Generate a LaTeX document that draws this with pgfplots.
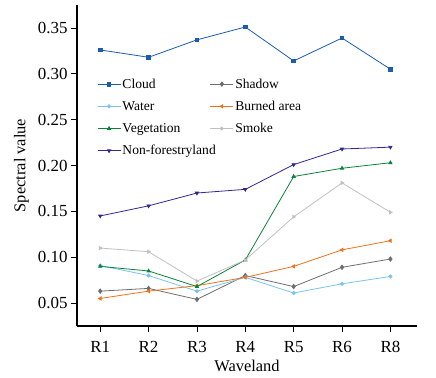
\documentclass[border=0pt]{standalone}
\usepackage{fontspec}
\setmainfont{Liberation Serif}
\usepackage{pgfplots}
\pgfplotsset{compat=1.18}
\definecolor{ccloud}{RGB}{28,92,172}
\definecolor{cshadow}{RGB}{110,110,110}
\definecolor{cwater}{RGB}{120,195,240}
\definecolor{cburned}{RGB}{242,112,24}
\definecolor{cveg}{RGB}{10,130,60}
\definecolor{csmoke}{RGB}{192,192,192}
\definecolor{cnon}{RGB}{48,40,140}
\begin{document}
\begin{tikzpicture}
\path[use as bounding box] (-77bp,-52bp) rectangle (359bp,326bp);
\begin{axis}[
  at={(0,0)}, anchor=south west,
  scale only axis, width=340bp, height=321bp,
  xmin=-0.48, xmax=6.55, ymin=0.025, ymax=0.375,
  axis lines*=left, axis line style={line width=1.2pt},
  xtick={0,1,2,3,4,5,6}, xticklabels={R1,R2,R3,R4,R5,R6,R8},
  ytick={0.05,0.10,0.15,0.20,0.25,0.30,0.35},
  yticklabel style={/pgf/number format/.cd,fixed,fixed zerofill,precision=2},
  /pgf/number format/assume math mode=true,
  tick align=outside, major tick length=6bp, tick style={line width=0.8pt, black},
  ticklabel style={font=\fontsize{17}{18}\selectfont},
  xticklabel style={yshift=-6bp},
  xlabel={Waveland}, ylabel={Spectral value},
  label style={font=\fontsize{16.5}{18}\selectfont},
  xlabel style={at={(axis description cs:0.5,0)}, anchor=north, yshift=-31bp},
  ylabel style={yshift=2bp},
  legend columns=2,
  legend style={draw=none, fill=none, at={(0.05,0.782)}, anchor=north west,
    font=\fontsize{13.6}{15}\selectfont, row sep=8.3bp, column sep=0bp,
    nodes={inner sep=1.5bp},
    /tikz/every even column/.append style={column sep=8bp}},
  legend cell align=left,
  legend image code/.code={\draw[mark repeat=2,mark phase=2,#1] plot coordinates {(0bp,0bp) (11.5bp,0bp) (23bp,0bp)};},
  every axis plot/.append style={line width=0.8pt, mark size=1.8pt},
]
\addplot[ccloud, mark=square*] coordinates {(0,0.326)(1,0.318)(2,0.337)(3,0.351)(4,0.314)(5,0.339)(6,0.305)};
\addlegendentry{Cloud}
\addplot[cshadow, mark=diamond*, mark size=2.2pt] coordinates {(0,0.063)(1,0.066)(2,0.054)(3,0.080)(4,0.068)(5,0.089)(6,0.098)};
\addlegendentry{Shadow}
\addplot[cwater, mark=*, mark size=1.6pt] coordinates {(0,0.091)(1,0.080)(2,0.063)(3,0.078)(4,0.061)(5,0.071)(6,0.079)};
\addlegendentry{Water}
\addplot[cburned, mark=triangle*, mark options={rotate=90}] coordinates {(0,0.055)(1,0.063)(2,0.069)(3,0.078)(4,0.090)(5,0.108)(6,0.118)};
\addlegendentry{Burned area}
\addplot[cveg, mark=triangle*] coordinates {(0,0.090)(1,0.085)(2,0.068)(3,0.097)(4,0.188)(5,0.197)(6,0.203)};
\addlegendentry{Vegetation}
\addplot[csmoke, mark=triangle*, mark options={rotate=-90}] coordinates {(0,0.110)(1,0.106)(2,0.074)(3,0.097)(4,0.144)(5,0.181)(6,0.149)};
\addlegendentry{Smoke}
\addplot[cnon, mark=triangle*, mark options={rotate=180}] coordinates {(0,0.145)(1,0.156)(2,0.170)(3,0.174)(4,0.201)(5,0.218)(6,0.220)};
\addlegendentry{\makebox[78bp][l]{Non-forestryland}}
\end{axis}
\end{tikzpicture}
\end{document}
